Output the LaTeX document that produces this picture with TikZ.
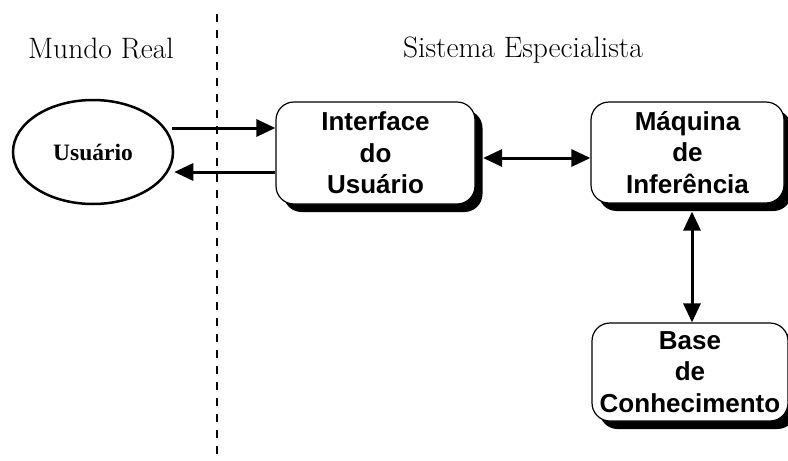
\documentclass[tikz,border=0pt]{standalone}
\usepackage{fontspec}
\newfontfamily\boxfont{Liberation Sans}
\newfontfamily\usrfont{Liberation Serif}
\usetikzlibrary{arrows.meta,shadows,shapes.geometric}
\tikzset{
  sysbox/.style={draw=black, line width=1.2pt, fill=white, rounded corners=18pt,
    align=center, inner sep=0pt,
    font=\boxfont\bfseries\fontsize{26}{31.5}\selectfont,
    drop shadow={fill=black, opacity=1, shadow xshift=7.5pt, shadow yshift=-8pt}},
  userell/.style={draw=black, line width=2.5pt, ellipse, inner sep=0pt,
    font=\usrfont\bfseries\fontsize{23.5}{28}\selectfont},
  title/.style={font=\fontsize{29.5}{34}\selectfont, anchor=base},
  arr/.style={line width=3pt, -{Triangle[length=19pt,width=17pt]}},
  darr/.style={line width=3pt, {Triangle[length=19pt,width=17pt]}-{Triangle[length=19pt,width=17pt]}},
  divider/.style={line width=2pt, dash pattern=on 8pt off 8pt}
}
\begin{document}
\begin{tikzpicture}[x=1pt,y=-1pt]
\useasboundingbox (0,0) rectangle (788,461);
\clip (0,0) rectangle (788,461);
\fill[white] (0,0) rectangle (788,461);
% divider
\coordinate (dtop) at (217,14);
\coordinate (dbot) at (217,461);
\draw[divider] (dtop) -- (dbot);
% titles
\node[title] (mr) at (101,58) {Mundo Real};
\node[title] (se) at (523,57) {Sistema Especialista};
% nodes
\node[userell, minimum width=160pt, minimum height=104pt] (usr) at (93,152) {Usuário};
\node[sysbox, minimum width=199pt, minimum height=102pt] (ifc) at (375.5,153) {Interface\\do\\Usuário};
\node[sysbox, minimum width=193pt, minimum height=101pt] (maq) at (687.5,152.5) {Máquina\\de\\Inferência};
\node[sysbox, minimum width=196pt, minimum height=98pt] (base) at (690,372) {Base\\de\\Conhecimento};
% connectors
\draw[arr] ([xshift=-2pt,yshift=24pt]usr.east) -- ([yshift=25pt]ifc.west);
\draw[arr] ([yshift=-19pt]ifc.west) -- ([yshift=-20pt]usr.east);
\draw[darr] ([xshift=7.5pt,yshift=-5pt]ifc.east) -- ([yshift=-5.5pt]maq.west);
\draw[darr] ([xshift=4.5pt,yshift=-8pt]maq.south) -- ([xshift=2pt]base.north);
\end{tikzpicture}
\end{document}
